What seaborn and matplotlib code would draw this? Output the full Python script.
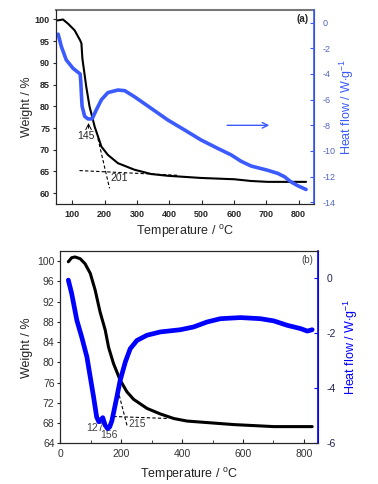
import numpy as np
import pandas as pd
import matplotlib
matplotlib.use('Agg')
import matplotlib.pyplot as plt
import seaborn as sns
from matplotlib.ticker import MultipleLocator

sns.set_style('ticks')
plt.rcParams['font.family'] = ['Liberation Sans', 'DejaVu Sans']
plt.rcParams['mathtext.fontset'] = 'custom'
plt.rcParams['mathtext.rm'] = 'Liberation Sans'
plt.rcParams['axes.unicode_minus'] = False

# ---- panel (a) data ----
a_temp_w = [50, 56, 71, 87, 107, 124, 128, 131, 143, 153, 169, 190, 210, 241, 292, 344, 395, 498, 601, 653, 704, 807, 823]
a_weight = [99.8, 99.8, 100, 99, 97.5, 95.2, 94.5, 91.0, 84.5, 80, 75.3, 70.7, 68.8, 66.9, 65.4, 64.4, 64.0, 63.5, 63.2, 62.8, 62.6, 62.6, 62.6]
a_temp_h = [56, 66, 81, 102, 124, 126, 128, 130, 138, 148, 161, 174, 190, 210, 241, 262, 292, 344, 395, 447, 498, 550, 591, 622, 653, 704, 735, 756, 776, 797, 823]
a_heat = [-0.9, -1.87, -2.9, -3.56, -4.0, -4.6, -5.6, -6.5, -7.3, -7.5, -7.5, -6.8, -6.0, -5.45, -5.25, -5.3, -5.77, -6.68, -7.58, -8.36, -9.14, -9.8, -10.3, -10.8, -11.17, -11.5, -11.74, -12.0, -12.4, -12.7, -13.0]
a_tangent_t = [179, 215]
a_tangent_w = [72.6, 61.1]
a_base_t = [122, 430]
a_base_w = [65.2, 64.1]

# ---- panel (b) data ----
b_temp_w = [27, 38, 49, 66, 82, 99, 115, 131, 148, 159, 175, 197, 219, 241, 285, 329, 373, 416, 482, 570, 636, 701, 827]
b_weight = [99.9, 100.7, 100.85, 100.5, 99.5, 97.6, 94.3, 90, 86.4, 83, 79.8, 76.5, 74.2, 72.7, 70.9, 69.8, 68.9, 68.4, 68.1, 67.7, 67.5, 67.3, 67.3]
b_temp_h = [27, 38, 55, 71, 88, 99, 110, 120, 127, 134, 140, 148, 156, 163, 170, 186, 197, 214, 230, 252, 285, 329, 395, 438, 482, 526, 592, 657, 701, 745, 789, 811, 827]
b_heat = [-0.08, -0.57, -1.54, -2.15, -2.87, -3.6, -4.33, -5.05, -5.22, -5.15, -5.07, -5.35, -5.47, -5.4, -5.18, -4.33, -3.72, -3.05, -2.57, -2.27, -2.08, -1.96, -1.88, -1.78, -1.6, -1.48, -1.44, -1.48, -1.56, -1.72, -1.84, -1.93, -1.88]
b_tangent_t = [194, 220]
b_tangent_w = [73.5, 67.4]
b_base_t = [175, 355]
b_base_w = [69.3, 68.9]

fig = plt.figure(figsize=(3.78, 4.84), dpi=100)

# ================= panel (a) =================
ax = fig.add_axes([0.147, 0.5785, 0.684, 0.401])
sns.lineplot(x=a_temp_w, y=a_weight, ax=ax, color='black', linewidth=1.5, sort=False)
ax.plot(a_tangent_t, a_tangent_w, color='black', linestyle='--', linewidth=0.8, dashes=(3, 2))
ax.plot(a_base_t, a_base_w, color='black', linestyle='--', linewidth=0.8, dashes=(3, 2))
ax.set_xlim(48, 848)
ax.set_ylim(57.5, 102.2)
ax.set_xticks(range(100, 801, 100))
ax.set_yticks(range(60, 101, 5))
ax.tick_params(axis='x', direction='in', length=3, labelsize=6.5, pad=4)
ax.tick_params(axis='y', direction='out', length=2, labelsize=6.5, pad=2)
for lab in ax.get_xticklabels() + ax.get_yticklabels():
    lab.set_fontweight('bold')
ax.set_xlabel('Temperature / $^{\\rm o}$C', fontsize=9, labelpad=3)
ax.set_ylabel('Weight / %', fontsize=9, labelpad=1)
ax.spines['top'].set_color('#777777')
ax.spines['top'].set_linewidth(1.5)
ax.text(143, 73.2, '145', fontsize=7.5, ha='center', va='center')
ax.annotate('', xy=(150, 76.8), xytext=(150, 74.3),
            arrowprops=dict(arrowstyle='->', color='black', lw=0.7))
ax.text(218, 63.6, '201', fontsize=7.5, ha='left', va='center')
ax.text(812, 100.2, '(a)', fontsize=7, fontweight='bold', ha='center', va='center')

ax2 = ax.twinx()
sns.lineplot(x=a_temp_h, y=a_heat, ax=ax2, color='#3b5bff', linewidth=2.6, sort=False)
ax2.set_ylim(-14.13, 0.99)
ax2.set_yticks(range(-14, 1, 2))
ax2.tick_params(axis='y', direction='in', length=3, labelsize=6.5, colors='#3b5bff',
                labelcolor='#5566bb', pad=6)
ax2.set_ylabel('Heat flow / W$\\cdot$g$^{-1}$', fontsize=9, color='#3b5bff', labelpad=2)
ax2.spines['right'].set_color('#3b5bff')
ax2.spines['right'].set_linewidth(1.2)
ax2.spines['top'].set_visible(False)
ax2.annotate('', xy=(718, -8), xytext=(570, -8),
             arrowprops=dict(arrowstyle='->', color='#3b5bff', lw=1.0))

# ================= panel (b) =================
bx = fig.add_axes([0.159, 0.0841, 0.683, 0.397])
sns.lineplot(x=b_temp_w, y=b_weight, ax=bx, color='black', linewidth=2.2, sort=False)
bx.plot(b_tangent_t, b_tangent_w, color='black', linestyle='--', linewidth=0.8, dashes=(3, 2))
bx.plot(b_base_t, b_base_w, color='black', linestyle='--', linewidth=0.8, dashes=(3, 2))
bx.set_xlim(0, 847)
bx.set_ylim(64, 102)
bx.set_xticks(range(0, 801, 200))
bx.xaxis.set_minor_locator(MultipleLocator(100))
bx.set_yticks(range(64, 101, 4))
bx.tick_params(axis='x', which='both', direction='in', labelsize=7.5, labelcolor='#333333', pad=4)
bx.tick_params(axis='x', which='major', length=3)
bx.tick_params(axis='x', which='minor', length=2)
bx.tick_params(axis='y', direction='out', length=2, labelsize=7.5, labelcolor='#333333', pad=2)
bx.set_xlabel('Temperature / $^{\\rm o}$C', fontsize=9, color='#222222', labelpad=5)
bx.set_ylabel('Weight / %', fontsize=9, color='#222222', labelpad=3)
bx.text(113, 67.0, '127', fontsize=7.5, color='#444444', ha='center', va='center')
bx.text(159, 65.6, '156', fontsize=7.5, color='#444444', ha='center', va='center')
bx.text(252, 67.8, '215', fontsize=7.5, color='#444444', ha='center', va='center')
bx.text(811, 100.3, '(b)', fontsize=7, color='#444444', ha='center', va='center')

bx2 = bx.twinx()
sns.lineplot(x=b_temp_h, y=b_heat, ax=bx2, color='#0000ff', linewidth=3.4, sort=False)
bx2.set_ylim(-6, 0.97)
bx2.set_yticks(range(-6, 1, 2))
bx2.tick_params(axis='y', direction='in', length=3, labelsize=7.5, colors='#0000ff',
                labelcolor='#222255', pad=6)
bx2.set_ylabel('Heat flow / W$\\cdot$g$^{-1}$', fontsize=9, color='#0000ff', labelpad=4)
bx2.spines['right'].set_color('#0000ff')
bx2.spines['right'].set_linewidth(1.2)

fig.savefig('out.png', dpi=100, facecolor='white')
plt.close(fig)
